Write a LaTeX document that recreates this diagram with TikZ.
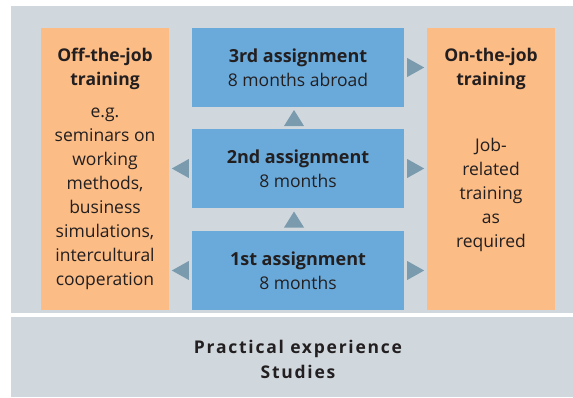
\documentclass[tikz,border=0pt]{standalone}
\usepackage{fontspec}
\setmainfont{Open Sans}
\newfontfamily\spacedfont[LetterSpace=10]{Open Sans}
\usetikzlibrary{positioning,calc}

\definecolor{panelgray}{HTML}{D0D8DE}
\definecolor{stepblue}{HTML}{69AADA}
\definecolor{trainorange}{HTML}{FBBC85}
\definecolor{tipgray}{HTML}{7A9AAE}
\definecolor{inkdark}{HTML}{231F20}
\newcommand\boxfont{\fontsize{17.5}{24}\selectfont}

\tikzset{
  trainbox/.style={fill=trainorange, minimum width=128pt, minimum height=282pt, inner sep=0pt},
  assignbox/.style={fill=stepblue, minimum width=212pt, minimum height=79pt, inner sep=0pt,
    align=center, text=inkdark, font=\boxfont},
  blurb/.style={align=center, text=inkdark, inner sep=0pt, font=\boxfont},
  tip/.style={fill=tipgray},
  lefttip/.pic={\fill[tip] (-8.5,0) -- (8.5,-9.5) -- (8.5,9.5) -- cycle;},
  righttip/.pic={\fill[tip] (8.5,0) -- (-8.5,-9.5) -- (-8.5,9.5) -- cycle;},
  uptip/.pic={\fill[tip] (0,-8) -- (10,8) -- (-10,8) -- cycle;},
}

\begin{document}
\begin{tikzpicture}[x=1pt,y=-1pt]
  \useasboundingbox (0,0) rectangle (573,397);
  \fill[white] (0,0) rectangle (573,397);
  \fill[panelgray] (11,6) rectangle (573,313);
  \fill[panelgray] (11,317) rectangle (573,397);

  % training columns
  \node[trainbox] (off) at (105,169) {};
  \node[trainbox] (on) at (491,169) {};
  \node[blurb, font=\boxfont\bfseries] (offhead) at ([yshift=-41.5pt]off.north) {Off-the-job\\training};
  \node[blurb] (offbody) at ([yshift=-171pt]off.north)
    {e.g.\\seminars on\\working\\methods,\\business\\simulations,\\intercultural\\cooperation};
  \node[blurb, font=\boxfont\bfseries] (onhead) at ([yshift=-41.5pt]on.north) {On-the-job\\training};
  \node[blurb] (onbody) at ([yshift=-167.5pt]on.north) {Job-\\related\\training\\as\\required};

  % assignments
  \node[assignbox] (a3) at (298,67.5) {\textbf{\fontsize{18}{24}\selectfont 3rd assignment}\\8 months abroad};
  \node[assignbox] (a2) at (298,168.5) {\textbf{\fontsize{18}{24}\selectfont 2nd assignment}\\8 months};
  \node[assignbox] (a1) at (298,270.5) {\textbf{\fontsize{18}{24}\selectfont 1st assignment}\\8 months};

  % pointers
  \pic at ([xshift=-11.5pt]a2.west) {lefttip};
  \pic at ([xshift=-11.5pt]a1.west) {lefttip};
  \pic at ([xshift=11.5pt]a3.east) {righttip};
  \pic at ([xshift=11.5pt]a2.east) {righttip};
  \pic at ([xshift=11.5pt]a1.east) {righttip};
  \coordinate (up1) at ($(a1.north)!0.5!(a2.south)$);
  \coordinate (up2) at ($(a2.north)!0.5!(a3.south)$);
  \pic at ([xshift=-4pt]up1) {uptip};
  \pic at ([xshift=-4pt]up2) {uptip};

  % base
  \node[blurb, font=\spacedfont\fontsize{17.5}{25}\selectfont\bfseries] (base) at (298,359.5)
    {Practical experience\\Studies};
\end{tikzpicture}
\end{document}
